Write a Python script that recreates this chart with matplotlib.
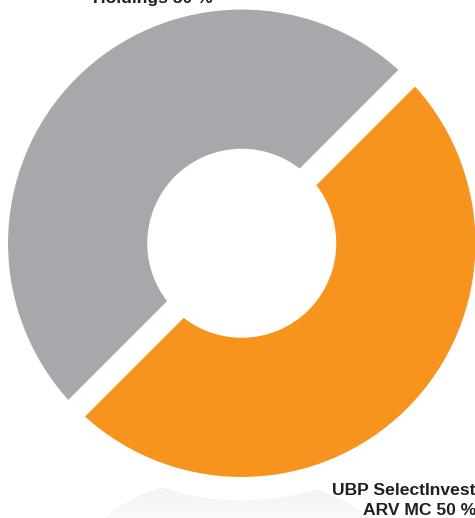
import numpy as np
import matplotlib.pyplot as plt
from matplotlib.patches import Ellipse

labels = ['Holdings 50 %', 'UBP SelectInvest\nARV MC 50 %']
shares = [50, 50]
colors = ['#a7a8ab', '#f7941e']

W, H = 475, 518
cx, cy = 241.75, H - 243.25
r_out, r_in = 233.7, 94.5
half_gap = 11.7  # white stroke eats this much on each side

fig = plt.figure(figsize=(W / 100, H / 100), dpi=100)
ax = fig.add_axes([0, 0, 1, 1])

# soft shadow under the ring: vertical fade clipped to an ellipse
shadow = Ellipse((cx - 5, H - 562), 310, 170, facecolor='none', lw=0)
ax.add_patch(shadow)
fade = np.linspace(0, 1, 64)[:, None]  # 0 at top, 1 at bottom
rgb = np.array([0.94, 0.945, 0.945]) * (1 - fade[..., None] * 0.6) \
    + np.array([1, 1, 1]) * fade[..., None] * 0.6
img = ax.imshow(rgb, extent=(cx - 160, cx + 150, 0, H - 475),
                aspect='auto', zorder=0, interpolation='bilinear')
img.set_clip_path(shadow)

ax.pie(shares, colors=colors, startangle=45, counterclock=True,
       center=(cx, cy), radius=r_out + half_gap,
       wedgeprops=dict(width=r_out - r_in + 2 * half_gap,
                       edgecolor='white', linewidth=2 * half_gap * 0.72,
                       joinstyle='miter'),
       frame=True)
ax.set_xlim(0, W)
ax.set_ylim(0, H)
ax.axis('off')

font = dict(family='Liberation Sans', weight='bold', size=12.6, color='#231f20')
ax.text(153, H - 3.5, labels[0], ha='center', va='baseline', **font)
ax.text(476, H - 515, labels[1], ha='right', va='baseline',
        multialignment='right', linespacing=1.45, **font)

fig.savefig('out.png', dpi=100)
